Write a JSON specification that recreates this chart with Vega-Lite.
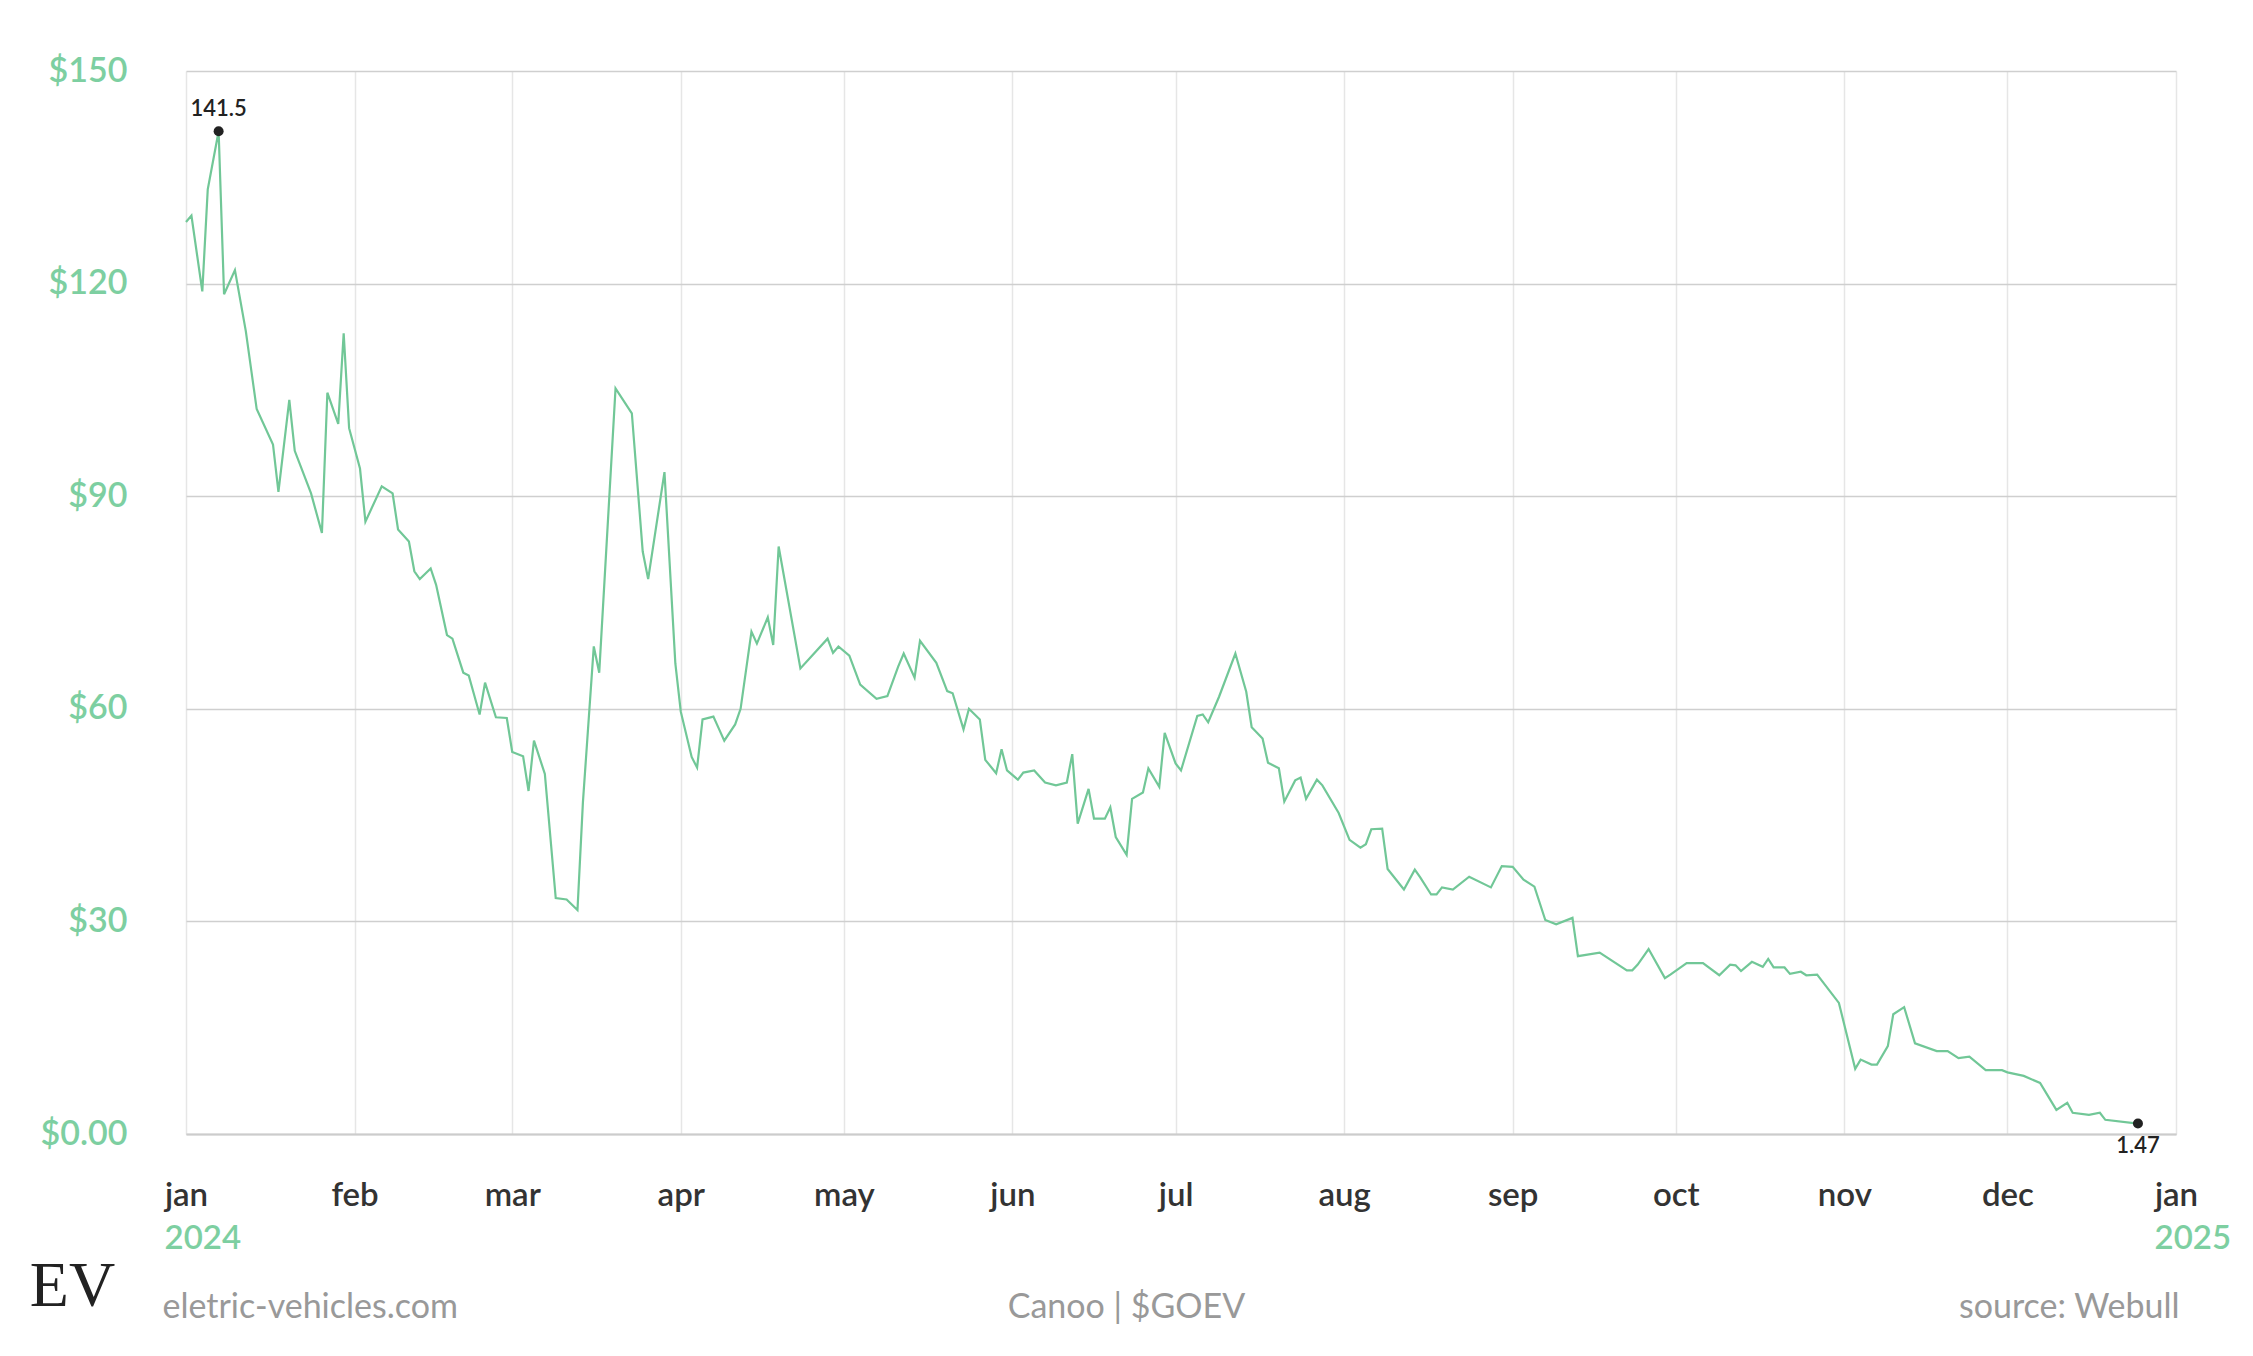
{
  "$schema": "https://vega.github.io/schema/vega-lite/v6.json",
  "width": 1990,
  "height": 1063,
  "autosize": "none",
  "padding": {"left": 186, "top": 71, "right": 77, "bottom": 222},
  "background": "white",
  "config": {"view": {"stroke": null}, "font": "Lato"},
  "data": {
    "values": [
      {"date": "2024-01-01", "price": 128.7}, {"date": "2024-01-02", "price": 129.6}, {"date": "2024-01-04", "price": 118.9},
      {"date": "2024-01-05", "price": 133.3}, {"date": "2024-01-07", "price": 141.5}, {"date": "2024-01-08", "price": 118.5},
      {"date": "2024-01-10", "price": 121.9}, {"date": "2024-01-12", "price": 113.3}, {"date": "2024-01-14", "price": 102.3},
      {"date": "2024-01-17", "price": 97.3}, {"date": "2024-01-18", "price": 90.6}, {"date": "2024-01-20", "price": 103.6},
      {"date": "2024-01-21", "price": 96.4}, {"date": "2024-01-24", "price": 90.4}, {"date": "2024-01-26", "price": 84.8},
      {"date": "2024-01-27", "price": 104.6}, {"date": "2024-01-29", "price": 100.2}, {"date": "2024-01-30", "price": 113.0},
      {"date": "2024-01-31", "price": 99.6}, {"date": "2024-02-02", "price": 93.9}, {"date": "2024-02-03", "price": 86.4},
      {"date": "2024-02-06", "price": 91.4}, {"date": "2024-02-08", "price": 90.4}, {"date": "2024-02-09", "price": 85.3},
      {"date": "2024-02-11", "price": 83.6}, {"date": "2024-02-12", "price": 79.4}, {"date": "2024-02-13", "price": 78.3},
      {"date": "2024-02-15", "price": 79.8}, {"date": "2024-02-16", "price": 77.5}, {"date": "2024-02-18", "price": 70.4},
      {"date": "2024-02-19", "price": 69.9}, {"date": "2024-02-21", "price": 65.1}, {"date": "2024-02-22", "price": 64.7},
      {"date": "2024-02-24", "price": 59.2}, {"date": "2024-02-25", "price": 63.7}, {"date": "2024-02-27", "price": 58.8},
      {"date": "2024-02-29", "price": 58.7}, {"date": "2024-03-01", "price": 53.9}, {"date": "2024-03-03", "price": 53.3},
      {"date": "2024-03-04", "price": 48.4}, {"date": "2024-03-05", "price": 55.5}, {"date": "2024-03-07", "price": 50.8},
      {"date": "2024-03-09", "price": 33.3}, {"date": "2024-03-11", "price": 33.1}, {"date": "2024-03-13", "price": 31.6},
      {"date": "2024-03-14", "price": 46.8}, {"date": "2024-03-16", "price": 68.8}, {"date": "2024-03-17", "price": 65.1},
      {"date": "2024-03-20", "price": 105.2}, {"date": "2024-03-23", "price": 101.7}, {"date": "2024-03-25", "price": 82.2},
      {"date": "2024-03-26", "price": 78.3}, {"date": "2024-03-29", "price": 93.4}, {"date": "2024-03-31", "price": 66.4},
      {"date": "2024-04-01", "price": 59.6}, {"date": "2024-04-03", "price": 53.2}, {"date": "2024-04-04", "price": 51.7},
      {"date": "2024-04-05", "price": 58.5}, {"date": "2024-04-07", "price": 58.9}, {"date": "2024-04-08", "price": 57.2},
      {"date": "2024-04-09", "price": 55.5}, {"date": "2024-04-11", "price": 57.8}, {"date": "2024-04-12", "price": 60.0},
      {"date": "2024-04-14", "price": 70.9}, {"date": "2024-04-15", "price": 69.2}, {"date": "2024-04-17", "price": 72.9},
      {"date": "2024-04-18", "price": 69.0}, {"date": "2024-04-19", "price": 82.9}, {"date": "2024-04-23", "price": 65.7},
      {"date": "2024-04-28", "price": 69.9}, {"date": "2024-04-29", "price": 67.9}, {"date": "2024-04-30", "price": 68.8},
      {"date": "2024-05-02", "price": 67.5}, {"date": "2024-05-04", "price": 63.4}, {"date": "2024-05-07", "price": 61.4},
      {"date": "2024-05-09", "price": 61.8}, {"date": "2024-05-11", "price": 66.0}, {"date": "2024-05-12", "price": 67.8},
      {"date": "2024-05-14", "price": 64.4}, {"date": "2024-05-15", "price": 69.6}, {"date": "2024-05-18", "price": 66.5},
      {"date": "2024-05-20", "price": 62.5}, {"date": "2024-05-21", "price": 62.2}, {"date": "2024-05-23", "price": 57.1},
      {"date": "2024-05-24", "price": 60.0}, {"date": "2024-05-26", "price": 58.5}, {"date": "2024-05-27", "price": 52.8},
      {"date": "2024-05-29", "price": 50.9}, {"date": "2024-05-30", "price": 54.3}, {"date": "2024-05-31", "price": 51.3},
      {"date": "2024-06-02", "price": 50.0}, {"date": "2024-06-03", "price": 51.0}, {"date": "2024-06-05", "price": 51.3},
      {"date": "2024-06-07", "price": 49.6}, {"date": "2024-06-09", "price": 49.2}, {"date": "2024-06-11", "price": 49.6},
      {"date": "2024-06-12", "price": 53.6}, {"date": "2024-06-13", "price": 43.8}, {"date": "2024-06-15", "price": 48.7},
      {"date": "2024-06-16", "price": 44.5}, {"date": "2024-06-18", "price": 44.5}, {"date": "2024-06-19", "price": 46.1},
      {"date": "2024-06-20", "price": 41.9}, {"date": "2024-06-22", "price": 39.4}, {"date": "2024-06-23", "price": 47.3},
      {"date": "2024-06-25", "price": 48.2}, {"date": "2024-06-26", "price": 51.6}, {"date": "2024-06-28", "price": 49.0},
      {"date": "2024-06-29", "price": 56.6}, {"date": "2024-07-01", "price": 52.3}, {"date": "2024-07-02", "price": 51.3},
      {"date": "2024-07-05", "price": 59.0}, {"date": "2024-07-06", "price": 59.2}, {"date": "2024-07-07", "price": 58.1},
      {"date": "2024-07-09", "price": 61.7}, {"date": "2024-07-12", "price": 67.8}, {"date": "2024-07-14", "price": 62.4},
      {"date": "2024-07-15", "price": 57.4}, {"date": "2024-07-17", "price": 55.8}, {"date": "2024-07-18", "price": 52.4},
      {"date": "2024-07-20", "price": 51.6}, {"date": "2024-07-21", "price": 46.9}, {"date": "2024-07-23", "price": 49.9},
      {"date": "2024-07-24", "price": 50.3}, {"date": "2024-07-25", "price": 47.3}, {"date": "2024-07-27", "price": 50.0},
      {"date": "2024-07-28", "price": 49.2}, {"date": "2024-07-31", "price": 45.3}, {"date": "2024-08-02", "price": 41.5},
      {"date": "2024-08-04", "price": 40.4}, {"date": "2024-08-05", "price": 40.9}, {"date": "2024-08-06", "price": 43.0},
      {"date": "2024-08-08", "price": 43.1}, {"date": "2024-08-09", "price": 37.4}, {"date": "2024-08-12", "price": 34.5},
      {"date": "2024-08-14", "price": 37.3}, {"date": "2024-08-15", "price": 36.2}, {"date": "2024-08-17", "price": 33.8},
      {"date": "2024-08-18", "price": 33.8}, {"date": "2024-08-19", "price": 34.8}, {"date": "2024-08-21", "price": 34.5},
      {"date": "2024-08-24", "price": 36.3}, {"date": "2024-08-28", "price": 34.8}, {"date": "2024-08-30", "price": 37.8},
      {"date": "2024-09-01", "price": 37.7}, {"date": "2024-09-03", "price": 35.9}, {"date": "2024-09-05", "price": 34.9},
      {"date": "2024-09-07", "price": 30.2}, {"date": "2024-09-09", "price": 29.6}, {"date": "2024-09-12", "price": 30.5},
      {"date": "2024-09-13", "price": 25.1}, {"date": "2024-09-17", "price": 25.6}, {"date": "2024-09-22", "price": 23.1},
      {"date": "2024-09-23", "price": 23.1}, {"date": "2024-09-24", "price": 23.9}, {"date": "2024-09-26", "price": 26.1},
      {"date": "2024-09-29", "price": 22.0}, {"date": "2024-09-30", "price": 22.5}, {"date": "2024-10-03", "price": 24.1},
      {"date": "2024-10-06", "price": 24.1}, {"date": "2024-10-09", "price": 22.4}, {"date": "2024-10-11", "price": 23.9},
      {"date": "2024-10-12", "price": 23.8}, {"date": "2024-10-13", "price": 23.0}, {"date": "2024-10-15", "price": 24.3},
      {"date": "2024-10-17", "price": 23.6}, {"date": "2024-10-18", "price": 24.7}, {"date": "2024-10-19", "price": 23.5},
      {"date": "2024-10-21", "price": 23.5}, {"date": "2024-10-22", "price": 22.6}, {"date": "2024-10-24", "price": 22.9},
      {"date": "2024-10-25", "price": 22.4}, {"date": "2024-10-27", "price": 22.5}, {"date": "2024-10-31", "price": 18.5},
      {"date": "2024-11-03", "price": 9.2}, {"date": "2024-11-04", "price": 10.5}, {"date": "2024-11-06", "price": 9.8},
      {"date": "2024-11-07", "price": 9.8}, {"date": "2024-11-09", "price": 12.4}, {"date": "2024-11-10", "price": 16.9},
      {"date": "2024-11-12", "price": 17.9}, {"date": "2024-11-14", "price": 12.8}, {"date": "2024-11-18", "price": 11.7},
      {"date": "2024-11-20", "price": 11.7}, {"date": "2024-11-22", "price": 10.7}, {"date": "2024-11-24", "price": 10.9},
      {"date": "2024-11-27", "price": 9.0}, {"date": "2024-11-30", "price": 9.0}, {"date": "2024-12-01", "price": 8.7},
      {"date": "2024-12-04", "price": 8.2}, {"date": "2024-12-07", "price": 7.2}, {"date": "2024-12-10", "price": 3.4},
      {"date": "2024-12-12", "price": 4.4}, {"date": "2024-12-13", "price": 3.0}, {"date": "2024-12-16", "price": 2.7},
      {"date": "2024-12-18", "price": 3.0}, {"date": "2024-12-19", "price": 2.0}, {"date": "2024-12-25", "price": 1.47}
    ]
  },
  "layer": [
    {
      "mark": {"type": "line", "color": "#71c797", "strokeWidth": 2.2},
      "encoding": {
        "x": {
          "field": "date",
          "type": "temporal",
          "scale": {
            "type": "utc",
            "nice": false,
            "domain": [
              {"year": 2024, "month": "jan", "date": 1, "utc": true},
              {"year": 2025, "month": "jan", "date": 1, "utc": true}
            ]
          },
          "axis": {
            "orient": "bottom",
            "tickCount": {"interval": "month", "step": 1},
            "labelExpr": "lower(utcFormat(datum.value, '%b'))",
            "labelFlush": false,
            "labelOverlap": false,
            "labelFontSize": 33,
            "labelFontWeight": 600,
            "labelColor": "#333333",
            "labelPadding": 45,
            "ticks": false,
            "domain": true,
            "domainColor": "#cccccc",
            "domainWidth": 2,
            "grid": true,
            "gridColor": "#e6e6e6",
            "gridWidth": 1.5,
            "title": "Canoo | $GOEV",
            "titleFontSize": 34,
            "titleFontWeight": "normal",
            "titleColor": "#999999",
            "titleX": 940,
            "titleY": 173,
            "titleAlign": "center",
            "titleBaseline": "middle"
          }
        },
        "y": {
          "field": "price",
          "type": "quantitative",
          "scale": {"domain": [0, 150], "nice": false},
          "axis": {
            "values": [0, 30, 60, 90, 120, 150],
            "labelExpr": "datum.value == 0 ? '$0.00' : '$' + datum.value",
            "labelFontSize": 34,
            "labelFontWeight": 600,
            "labelColor": "#7dcfa1",
            "labelPadding": 59,
            "ticks": false,
            "domain": false,
            "grid": true,
            "gridColor": "#cfcfcf",
            "gridWidth": 1.5,
            "title": "EV",
            "titleFont": "Liberation Serif",
            "titleFontSize": 64,
            "titleFontWeight": "normal",
            "titleColor": "#222222",
            "titleAngle": 0,
            "titleX": -114,
            "titleY": 1215,
            "titleAlign": "center",
            "titleBaseline": "middle"
          }
        }
      }
    },
    {
      "transform": [{"filter": "datum.price == 141.5 || datum.price == 1.47"}],
      "mark": {"type": "circle", "color": "#222222", "opacity": 1, "size": 100},
      "encoding": {
        "x": {
          "field": "date",
          "type": "temporal",
          "scale": {"type": "utc"},
          "axis": {
            "orient": "bottom",
            "tickCount": {"interval": "month", "step": 1},
            "labelExpr": "utcmonth(datum.value) == 0 ? utcFormat(datum.value, '%Y') : ''",
            "labelFlush": false,
            "labelOverlap": false,
            "labelAlign": "left",
            "labelOffset": -22,
            "labelFontSize": 33,
            "labelFontWeight": 600,
            "labelColor": "#7dcfa1",
            "labelPadding": 88,
            "ticks": false,
            "domain": false,
            "grid": false,
            "title": "eletric-vehicles.com",
            "titleFontSize": 34,
            "titleFontWeight": "normal",
            "titleColor": "#999999",
            "titleX": -24,
            "titleY": 173,
            "titleAlign": "left",
            "titleBaseline": "middle"
          }
        },
        "y": {
          "field": "price",
          "type": "quantitative",
          "axis": {
            "orient": "right",
            "labels": false,
            "ticks": false,
            "domain": false,
            "grid": false,
            "title": "source: Webull",
            "titleFontSize": 34,
            "titleFontWeight": "normal",
            "titleColor": "#999999",
            "titleAngle": 0,
            "titleX": 3,
            "titleY": 1236,
            "titleAlign": "right",
            "titleBaseline": "middle"
          }
        }
      }
    },
    {
      "transform": [{"filter": "datum.price == 141.5"}],
      "mark": {"type": "text", "fontSize": 22, "fontWeight": 600, "color": "#222222", "dy": -22, "baseline": "middle"},
      "encoding": {
        "x": {"field": "date", "type": "temporal", "axis": null},
        "y": {"field": "price", "type": "quantitative", "axis": null},
        "text": {"field": "price", "type": "quantitative"}
      }
    },
    {
      "transform": [{"filter": "datum.price == 1.47"}],
      "mark": {"type": "text", "fontSize": 22, "fontWeight": 600, "color": "#222222", "dy": 22, "baseline": "middle"},
      "encoding": {
        "x": {"field": "date", "type": "temporal", "axis": null},
        "y": {"field": "price", "type": "quantitative", "axis": null},
        "text": {"field": "price", "type": "quantitative"}
      }
    }
  ],
  "resolve": {"axis": {"x": "independent", "y": "independent"}}
}
